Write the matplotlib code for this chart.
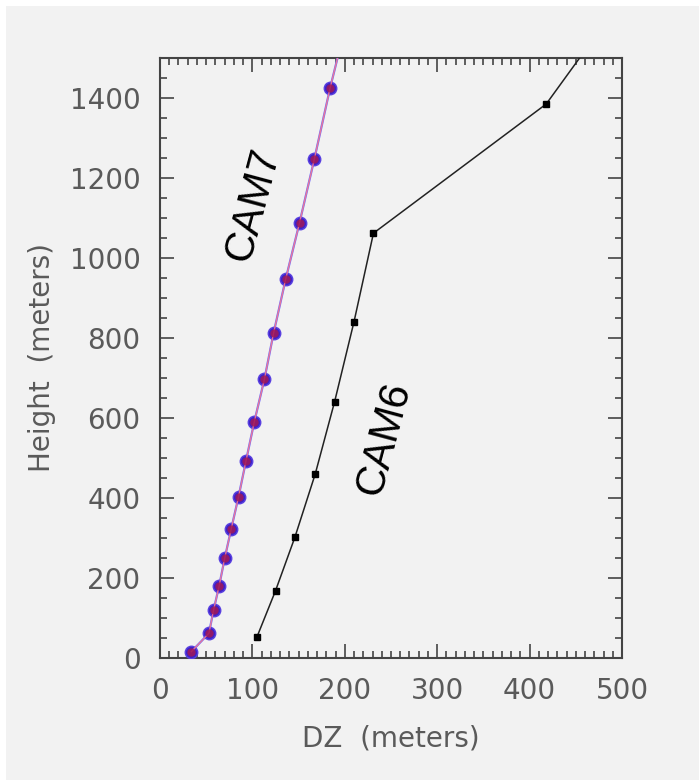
import matplotlib
matplotlib.use('Agg')
import matplotlib.pyplot as plt
from matplotlib.patches import Rectangle
from matplotlib.ticker import MultipleLocator

# layer thickness (DZ) vs height
cam7_dz = [34, 53, 58, 64, 70, 77, 85, 93, 102, 113, 123, 136, 151, 167, 184, 205]
cam7_height = [16, 62, 120, 180, 249, 322, 403, 492, 590, 697, 813, 947, 1088, 1247, 1424, 1620]

cam6_dz = [105, 125, 146, 168, 189, 210, 231, 418, 520]
cam6_height = [53, 168, 302, 460, 641, 841, 1062, 1385, 1710]

xticks = [0, 100, 200, 300, 400, 500]
yticks = [0, 200, 400, 600, 800, 1000, 1200, 1400]

bg = '#f2f2f2'
tick_color = '#5a5a5a'

fig = plt.figure(figsize=(6.99, 7.8), dpi=100, facecolor='white')
fig.patches.append(Rectangle((6 / 699, 0), 1, 1 - 6 / 780, transform=fig.transFigure,
                             facecolor=bg, edgecolor='none', zorder=-10))

ax = fig.add_axes([160 / 699, 1 - 658 / 780, 462 / 699, 600 / 780])
ax.set_facecolor(bg)

# CAM7: blue and red curves drawn on top of each other
ax.plot(cam7_dz, cam7_height, color='#6a6aff', lw=1.6, marker='o', ms=9,
        mfc='#3c22c8', mec='#5a40e0', zorder=3)
ax.plot(cam7_dz, cam7_height, color='#ff7a8a', lw=1.0, marker='o', ms=6,
        mfc='#a01858', mec='none', alpha=0.85, zorder=4)

# CAM6
ax.plot(cam6_dz, cam6_height, color='#222222', lw=1.1, marker='s', ms=5,
        mfc='black', mec='black', zorder=3)

ax.text(101, 1135, 'CAM7', rotation=75, fontsize=30, family='Liberation Sans',
        ha='center', va='center', rotation_mode='anchor')
ax.text(243, 550, 'CAM6', rotation=75, fontsize=30, family='Liberation Sans',
        ha='center', va='center', rotation_mode='anchor')

ax.set_xlim(0, 500)
ax.set_ylim(0, 1500)
ax.set_xticks(xticks)
ax.set_yticks(yticks)
ax.xaxis.set_minor_locator(MultipleLocator(10))
ax.yaxis.set_minor_locator(MultipleLocator(50))
ax.tick_params(which='both', direction='in', top=True, right=True, colors='#444444',
               labelcolor=tick_color, labelsize=20, width=1.2)
ax.tick_params(which='major', length=10, pad=14)
ax.tick_params(which='minor', length=5)
for s in ax.spines.values():
    s.set_color('#444444')
    s.set_linewidth(1.5)

ax.set_xlabel('DZ  (meters)', fontsize=20, color=tick_color, labelpad=14)
ax.set_ylabel('Height  (meters)', fontsize=20, color=tick_color, labelpad=10)

fig.savefig('out.png', dpi=100, facecolor=fig.get_facecolor())
